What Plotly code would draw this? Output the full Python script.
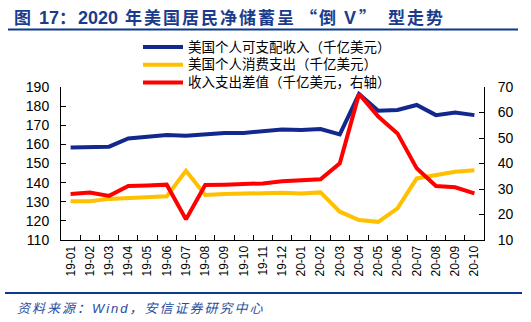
import plotly.graph_objects as go

months = ["19-01","19-02","19-03","19-04","19-05","19-06","19-07","19-08","19-09","19-10","19-11","19-12",
          "20-01","20-02","20-03","20-04","20-05","20-06","20-07","20-08","20-09","20-10"]
income = [158.4,158.6,158.8,163.1,164.0,164.9,164.5,165.4,165.9,166.0,166.8,167.8,
          167.5,168.0,165.2,186.3,177.6,178.0,180.6,175.3,176.6,175.3]
consumption = [130.3,130.3,131.5,132.0,132.6,132.9,146.2,133.5,134.0,134.2,134.5,134.7,
               134.3,134.9,124.8,120.4,119.5,126.5,142.2,143.9,145.7,146.5]
diff = [28.0,28.6,27.3,31.2,31.4,31.7,18.1,31.6,31.7,31.8,32.2,33.0,
        33.3,33.8,40.1,67.3,58.4,51.8,38.1,31.2,30.7,28.3]
names = ["美国个人可支配收入（千亿美元）", "美国个人消费支出（千亿美元）", "收入支出差值（千亿美元，右轴）"]
colors = ["#13288F", "#FFC000", "#FF0000"]
left_ticks = [110,120,130,140,150,160,170,180,190]
right_ticks = [10,20,30,40,50,60,70]

W, H = 531, 322
L, R, T, B = 61, 47, 87, 82
pw, ph = W - L - R, H - T - B

def fx(px):
    return (px - L) / pw

def fy(py):
    return (H - B - py) / ph

fig = go.Figure()
fig.add_trace(go.Scatter(x=months, y=income, mode="lines", line=dict(color=colors[0], width=4), name=names[0]))
fig.add_trace(go.Scatter(x=months, y=consumption, mode="lines", line=dict(color=colors[1], width=4), name=names[1]))
fig.add_trace(go.Scatter(x=months, y=diff, mode="lines", line=dict(color=colors[2], width=4), name=names[2], yaxis="y2"))

font_lat = "Liberation Sans, Arial, Noto Sans CJK SC, sans-serif"

fig.update_layout(
    width=W, height=H,
    margin=dict(l=L, r=R, t=T, b=B, pad=0),
    paper_bgcolor="white", plot_bgcolor="white",
    showlegend=False,
    font=dict(family=font_lat, color="#000000"),
    xaxis=dict(type="category", range=[-0.5, len(months) - 0.5], tickson="boundaries",
               ticks="inside", ticklen=5, tickcolor="#000", showline=True, linecolor="#000", linewidth=1,
               tickangle=-90, tickfont=dict(size=12, color="#000"), showgrid=False, zeroline=False),
    yaxis=dict(range=[110, 190], tickvals=left_ticks, ticks="inside", ticklen=5, tickcolor="#000",
               showline=True, linecolor="#000", linewidth=1, showgrid=False, zeroline=False,
               tickfont=dict(size=14, color="#000"), ticklabelstandoff=8),
    yaxis2=dict(range=[10, 70], tickvals=right_ticks, overlaying="y", side="right", ticks="inside",
                ticklen=5, tickcolor="#000", showline=True, linecolor="#000", linewidth=1,
                showgrid=False, zeroline=False, tickfont=dict(size=14, color="#000"), ticklabelstandoff=10),
)


def cjk(text, ls):
    return ("<span style=\"font-family:'Noto Sans CJK SC';font-size:17px;letter-spacing:%gpx\">%s</span>"
            % (ls, text))


def lat(text, ls=0):
    return "<span style=\"letter-spacing:%gpx\">%s</span>" % (ls, text)


title = ("<b>" + cjk("图", 3) + lat(" 17") + cjk("：", 2) + lat("2020") + lat(" ", 2)
         + cjk("年美国居民净储蓄", 2) + cjk("呈", 6) + cjk("“", 2) + cjk("倒", 0) + lat(" V", 3)
         + cjk("”", 12) + cjk("型走势", 2) + "</b>")

shapes = []
annotations = []
annotations.append(dict(text=title, xref="paper", yref="paper",
                        x=fx(12), y=fy(16), xanchor="left", yanchor="middle", showarrow=False,
                        font=dict(size=18, color="#1B3C8C", family=font_lat)))
shapes.append(dict(type="line", xref="paper", yref="paper", x0=fx(8), x1=fx(518), y0=fy(29.5), y1=fy(29.5),
                   line=dict(color="#0B3A8C", width=2)))
shapes.append(dict(type="line", xref="paper", yref="paper", x0=fx(5), x1=fx(522), y0=fy(293), y1=fy(293),
                   line=dict(color="#0B3A8C", width=2)))
annotations.append(dict(text="<i><span style=\"letter-spacing:2px\">资料来源：Wind，安信证券研究中心</span></i>",
                        xref="paper", yref="paper",
                        x=fx(15), y=fy(308), xanchor="left", yanchor="middle", showarrow=False,
                        font=dict(size=13, color="#2A4C9C")))
# manual legend
for i, (nm, c) in enumerate(zip(names, colors)):
    ypx = 47 + i * 17.7
    shapes.append(dict(type="line", xref="paper", yref="paper", x0=fx(143), x1=fx(183), y0=fy(ypx), y1=fy(ypx),
                       line=dict(color=c, width=4)))
    annotations.append(dict(text=nm, xref="paper", yref="paper",
                            x=fx(186), y=fy(ypx), xanchor="left",
                            yanchor="middle", showarrow=False, font=dict(size=13.5, color="#000")))

fig.update_layout(shapes=shapes, annotations=annotations)
fig.write_html("out.html")
